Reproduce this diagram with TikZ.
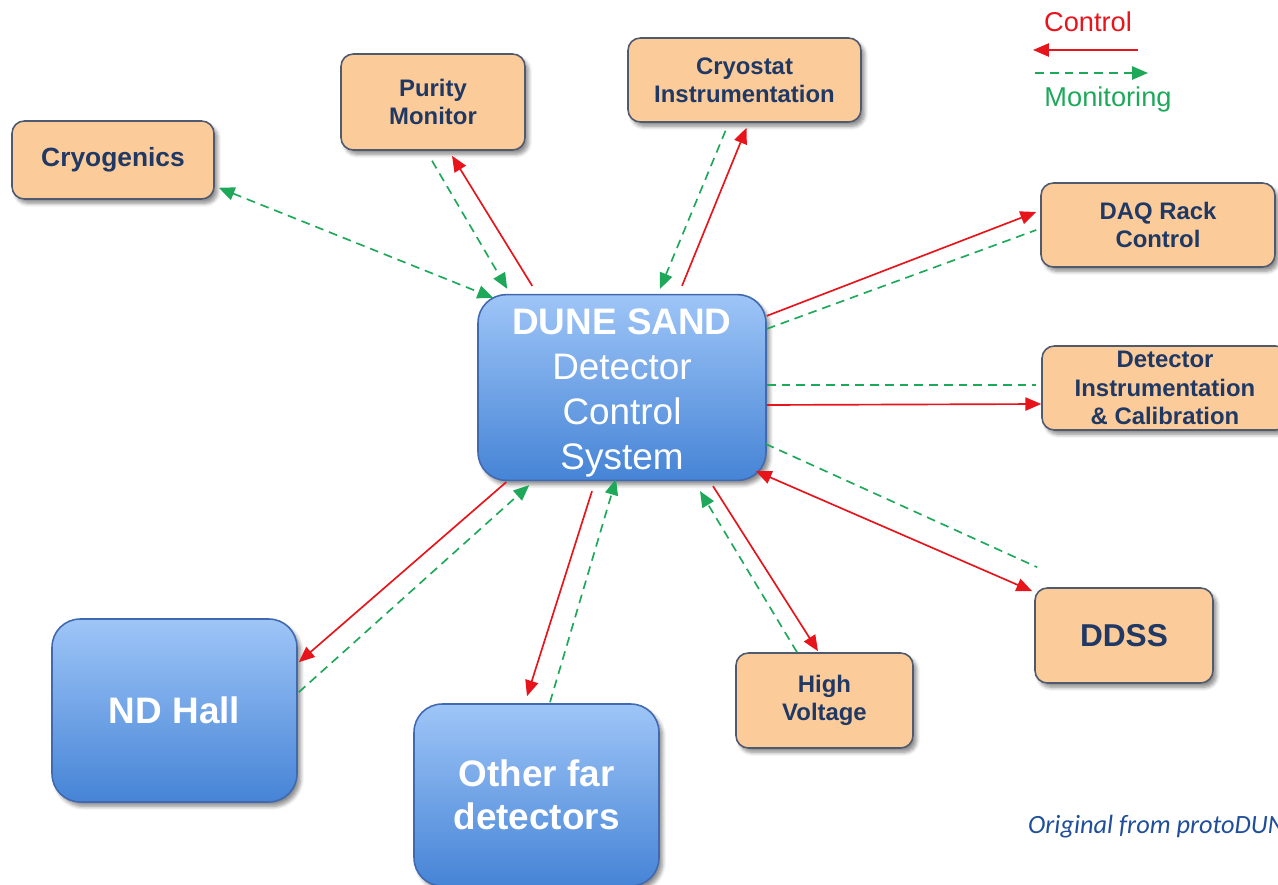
\documentclass[tikz,border=0pt]{standalone}
\usepackage{fontspec}
\setmainfont{Liberation Sans}
\newfontfamily\notefont{Carlito}
\usetikzlibrary{arrows.meta,calc,shadows.blur}
\definecolor{ctrlred}{RGB}{232,20,28}
\definecolor{mongreen}{RGB}{30,168,90}
\definecolor{boxfill}{RGB}{251,203,154}
\definecolor{boxline}{RGB}{80,90,110}
\definecolor{boxtext}{RGB}{31,56,100}
\definecolor{bluetop}{RGB}{158,197,247}
\definecolor{bluebot}{RGB}{70,132,214}
\definecolor{blueline}{RGB}{65,105,175}
\definecolor{notecol}{RGB}{31,78,154}
\tikzset{
  orangebox/.style={draw=boxline, line width=0.9pt, fill=boxfill, rounded corners=7pt,
    align=center, text=boxtext, inner sep=2pt,
    font=\fontsize{13.6}{16}\selectfont\bfseries,
    blur shadow={shadow xshift=2pt, shadow yshift=-2.5pt, shadow opacity=45, shadow blur steps=6}},
  bluebox/.style={draw=blueline, line width=0.9pt, top color=bluetop, bottom color=bluebot,
    rounded corners=16pt, align=center, text=white, inner sep=2pt,
    blur shadow={shadow xshift=2pt, shadow yshift=-2.5pt, shadow opacity=45, shadow blur steps=6}},
  ctrl/.style={draw=ctrlred, line width=0.95pt},
  mon/.style={draw=mongreen, line width=0.95pt, dash pattern=on 5pt off 3.4pt},
}
\begin{document}
\begin{tikzpicture}[x=0.02cm, y=-0.02cm, >={Triangle[length=9pt,width=7.5pt]}]
\useasboundingbox (0,0) rectangle (1278,885);
\clip (0,0) rectangle (1278,885);
% boxes
\node[orangebox, minimum width=4.04cm, minimum height=1.56cm, font=\fontsize{15}{18}\selectfont\bfseries] at (113,160) (cryo) {Cryogenics};
\node[orangebox, minimum width=3.68cm, minimum height=1.92cm] at (433,102) (purity) {Purity\\Monitor};
\node[orangebox, minimum width=4.66cm, minimum height=1.68cm] at (744.5,80) (cryostat) {Cryostat\\Instrumentation};
\node[orangebox, minimum width=4.68cm, minimum height=1.68cm] at (1158,225) (daq) {DAQ Rack\\Control};
\node[orangebox, minimum width=4.92cm, minimum height=1.68cm] at (1165,388) (detinst) {Detector\\Instrumentation\\\& Calibration};
\node[orangebox, minimum width=3.56cm, minimum height=1.9cm, font=\fontsize{18}{21}\selectfont\bfseries] at (1124,635.5) (ddss) {DDSS};
\node[orangebox, minimum width=3.54cm, minimum height=1.9cm] at (824.5,700.5) (hv) {High\\Voltage};
\node[bluebox, minimum width=5.76cm, minimum height=3.7cm, font=\fontsize{21}{25.5}\selectfont] at (622,387.5) (dcs) {\mbox{}\\[-4.7pt]\textbf{DUNE SAND}\\Detector\\Control\\System};
\node[bluebox, minimum width=4.9cm, minimum height=3.66cm, font=\fontsize{21}{25}\selectfont\bfseries] at (174.5,710.5) (ndhall) {ND Hall};
\node[bluebox, minimum width=4.9cm, minimum height=3.64cm, font=\fontsize{21}{24.4}\selectfont\bfseries] at (536.5,795) (ofd) {Other far\\detectors};
% links
\draw[mon,<->] ($(cryo.south east)+(4,-12)$) -- ($(dcs.north west)+(16,4)$);
\draw[mon,->] ($(purity.south)+(-1,10)$) -- ($(dcs.north west)+(30,-5)$);
\draw[ctrl,->] ($(dcs.north west)+(55,-8)$) -- ($(purity.south)+(19,5)$);
\draw[mon,->] ($(cryostat.south)+(-19,8)$) -- ($(dcs.north)+(38,-5)$);
\draw[ctrl,->] ($(dcs.north)+(60,-8)$) -- ($(cryostat.south)+(2,5)$);
\draw[ctrl,->] ($(dcs.north east)+(0,22)$) -- ($(daq.west)+(-4,-13)$);
\draw[mon] ($(dcs.north east)+(0,35)$) -- ($(daq.west)+(-4,5)$);
\draw[mon] ($(dcs.east)+(0,-2.5)$) -- ($(detinst.west)+(-5,-3)$);
\draw[ctrl,->] ($(dcs.east)+(0,17.5)$) -- ($(detinst.west)+(0,16)$);
\draw[mon] ($(dcs.east)+(-1,56.5)$) -- ($(ddss.north west)+(3,-20)$);
\draw[ctrl,<->] ($(dcs.south east)+(-11,-10)$) -- ($(ddss.north west)+(-2,4)$);
\draw[ctrl,->] ($(dcs.south)+(91,5)$) -- ($(hv.north)+(-6.5,-1)$);
\draw[mon,->] ($(hv.north)+(-27.5,0)$) -- ($(dcs.south)+(78,10)$);
\draw[ctrl,->] ($(dcs.south)+(-30,10)$) -- ($(ofd.north)+(-9.5,-7)$);
\draw[mon,->] ($(ofd.north)+(13.5,-1)$) -- ($(dcs.south)+(-6,-2)$);
\draw[ctrl,->] ($(dcs.south west)+(29,1)$) -- ($(ndhall.north east)+(1,44)$);
\draw[mon,->] ($(ndhall.north east)+(1,74)$) -- ($(dcs.south west)+(52,4)$);
% legend
\node[text=ctrlred, font=\fontsize{15.5}{18}\selectfont] at (1088,22) (ctrltext) {Control};
\node[text=mongreen, font=\fontsize{15.5}{18}\selectfont] at (1108,99) (montext) {Monitoring};
\coordinate (ctrla) at (1138,50);
\coordinate (ctrlb) at (1033,50);
\coordinate (mona) at (1035,73);
\coordinate (monb) at (1148,73);
\draw[ctrl,->] (ctrla) -- (ctrlb);
\draw[mon,->] (mona) -- (monb);
\node[anchor=west, text=notecol, font=\notefont\itshape\fontsize{15}{18}\selectfont] at (1022,827) (note) {Original from protoDUN};
\end{tikzpicture}
\end{document}
